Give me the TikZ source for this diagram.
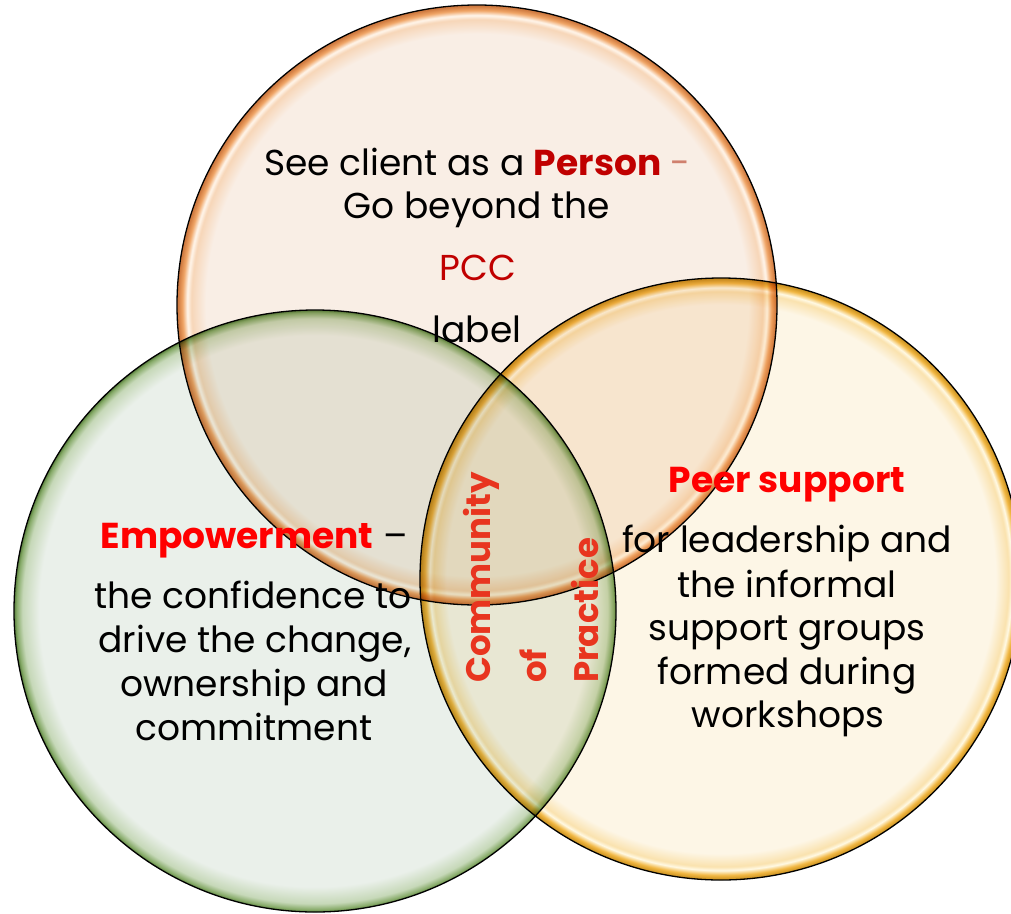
\documentclass[tikz,border=0pt]{standalone}
\usepackage{fontspec}
\setmainfont{Poppins}
\definecolor{oin}{HTML}{F9EEE5}
\definecolor{omid}{HTML}{F7D6B8}
\definecolor{ohl}{HTML}{FFF6EC}
\definecolor{orim}{HTML}{F0A566}
\definecolor{odk}{HTML}{CF7A40}
\definecolor{gin}{HTML}{EAF0EA}
\definecolor{gmid}{HTML}{C6D8B8}
\definecolor{grim}{HTML}{86AA68}
\definecolor{gdk}{HTML}{587F3C}
\definecolor{yin}{HTML}{FDF6E6}
\definecolor{ymid}{HTML}{FAE2AE}
\definecolor{yhl}{HTML}{FFF9E4}
\definecolor{yrim}{HTML}{F2B844}
\definecolor{ydk}{HTML}{CC9322}
\definecolor{pdark}{HTML}{C00000}
\definecolor{pdash}{HTML}{D0806E}
\definecolor{bred}{HTML}{FF0000}
\definecolor{cred}{HTML}{E8351F}
\pgfdeclareradialshading{orangeball}{\pgfpoint{0bp}{0bp}}{color(0bp)=(oin); color(22.6bp)=(oin); color(23.8bp)=(omid); color(24.15bp)=(ohl); color(24.55bp)=(orim); color(24.92bp)=(odk); color(25bp)=(odk); color(50bp)=(odk)}
\pgfdeclareradialshading{greenball}{\pgfpoint{0bp}{0bp}}{color(0bp)=(gin); color(22.9bp)=(gin); color(24.3bp)=(gmid); color(24.8bp)=(grim); color(25bp)=(gdk); color(50bp)=(gdk)}
\pgfdeclareradialshading{yellowball}{\pgfpoint{0bp}{0bp}}{color(0bp)=(yin); color(22.8bp)=(yin); color(23.9bp)=(ymid); color(24.2bp)=(yhl); color(24.6bp)=(yrim); color(24.93bp)=(ydk); color(25bp)=(ydk); color(50bp)=(ydk)}
\tikzset{
  ring/.style={draw=black, line width=1.3pt},
  txt/.style={anchor=base, inner sep=0pt, text=black, font=\fontsize{36}{42}\selectfont},
  cop/.style={anchor=base west, inner sep=0pt, rotate=90, text=cred, font=\fontsize{34}{40}\selectfont\bfseries}
}
\begin{document}
\begin{tikzpicture}[x=1pt,y=-1pt]
\useasboundingbox (0,0) rectangle (1011,913);
\clip (0,0) rectangle (1011,913);
\fill[white] (0,0) rectangle (1011,913);
\coordinate (co) at (477,305);
\coordinate (cg) at (315,611);
\coordinate (cy) at (721,579);
\begin{scope}[blend mode=multiply]
  \shade[shading=orangeball] (co) circle (300);
  \shade[shading=greenball] (cg) circle (301);
  \shade[shading=yellowball] (cy) circle (301);
  \draw[ring] (co) circle (300);
  \draw[ring] (cg) circle (301);
  \draw[ring] (cy) circle (301);
\end{scope}
% top circle
\node[txt] (o1) at (477.5,175) {See client as a \textcolor{pdark}{\bfseries Person} \textcolor{pdash}{-}};
\node[txt] (o2) at (477,218) {Go beyond the};
\node[txt, text=pdark] (o3) at (478,280) {PCC};
\node[txt] (o4) at (477,342) {label};
% left circle
\node[txt] (g1) at (254,548) {\textcolor{bred}{\bfseries Empowerment} –};
\node[txt] (g2) at (253,608) {the confidence to};
\node[txt] (g3) at (255,652) {drive the change,};
\node[txt] (g4) at (254,696) {ownership and};
\node[txt] (g5) at (254,740) {commitment};
% right circle
\node[txt, text=bred, font=\fontsize{36}{42}\selectfont\bfseries] (y1) at (787,492) {Peer support};
\node[txt] (y2) at (787,552) {for leadership and};
\node[txt] (y3) at (787,597) {the informal};
\node[txt] (y4) at (787,640) {support groups};
\node[txt] (y5) at (787,684) {formed during};
\node[txt] (y6) at (788,727) {workshops};
% centre
\node[cop] (c1) at (490,683) {Community};
\node[cop] (c2) at (546,683) {of};
\node[cop] (c3) at (598,683) {Practice};
\end{tikzpicture}
\end{document}
